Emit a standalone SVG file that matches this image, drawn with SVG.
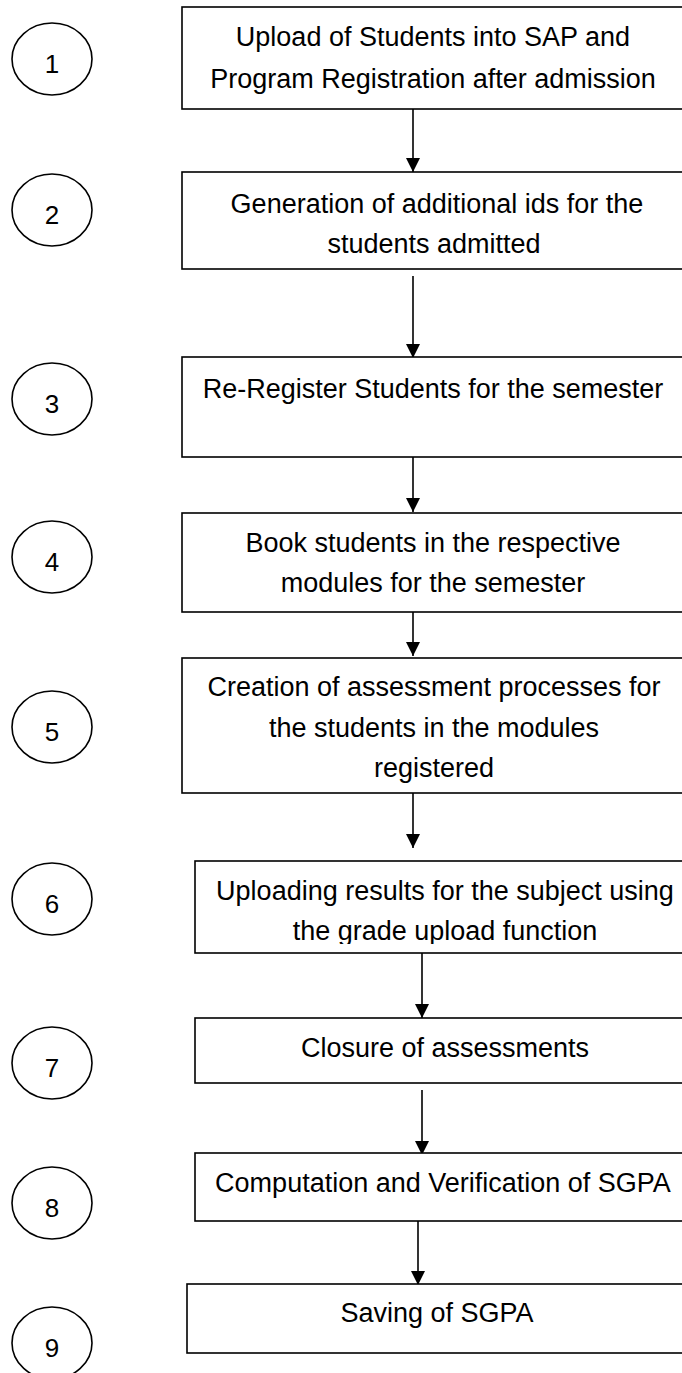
<svg xmlns="http://www.w3.org/2000/svg" width="682" height="1373" viewBox="0 0 682 1373">
<style>
.box{fill:#fff;stroke:#000;stroke-width:1.6}
.circ{fill:#fff;stroke:#000;stroke-width:1.6}
.t{font-family:"Liberation Sans",Arial,sans-serif;font-size:27px;fill:#000;text-anchor:middle}
.n{font-family:"Liberation Sans",Arial,sans-serif;font-size:26px;fill:#000;text-anchor:middle}
.conn{stroke:#000;stroke-width:1.6;fill:none;marker-end:url(#arr)}
</style>
<defs>
<marker id="arr" markerUnits="userSpaceOnUse" markerWidth="14" markerHeight="14" refX="14" refY="7" orient="auto" viewBox="0 0 14 14">
<path d="M0,0 L14,7 L0,14 z" fill="#000"/>
</marker>
<clipPath id="clip6"><rect x="195" y="861" width="500" height="83"/></clipPath>
</defs>
<rect width="682" height="1373" fill="#fff"/>
<g id="connectors">
<line class="conn" x1="413" y1="109" x2="413" y2="172"/>
<line class="conn" x1="413" y1="276" x2="413" y2="358"/>
<line class="conn" x1="413" y1="453" x2="413" y2="512"/>
<line class="conn" x1="413" y1="603" x2="413" y2="656"/>
<line class="conn" x1="413" y1="793" x2="413" y2="848"/>
<line class="conn" x1="422" y1="952" x2="422" y2="1018"/>
<line class="conn" x1="422" y1="1090" x2="422" y2="1155"/>
<line class="conn" x1="418" y1="1219" x2="418" y2="1285"/>
</g>
<g id="step1">
<ellipse class="circ" cx="52" cy="59" rx="40" ry="36"/>
<text class="n" x="52" y="73">1</text>
<rect class="box" x="182" y="7" width="520" height="102"/>
<text class="t" x="433" y="46">Upload of Students into SAP and</text>
<text class="t" x="433" y="88">Program Registration after admission</text>
</g>
<g id="step2">
<ellipse class="circ" cx="52" cy="210" rx="40" ry="36"/>
<text class="n" x="52" y="224">2</text>
<rect class="box" x="182" y="172" width="520" height="97"/>
<text class="t" x="437" y="213">Generation of additional ids for the</text>
<text class="t" x="434" y="253">students admitted</text>
</g>
<g id="step3">
<ellipse class="circ" cx="52" cy="399" rx="40" ry="36"/>
<text class="n" x="52" y="413">3</text>
<rect class="box" x="182" y="357" width="520" height="100"/>
<text class="t" x="433" y="398">Re-Register Students for the semester</text>
</g>
<g id="step4">
<ellipse class="circ" cx="52" cy="557" rx="40" ry="36"/>
<text class="n" x="52" y="571">4</text>
<rect class="box" x="182" y="513" width="520" height="99"/>
<text class="t" x="433" y="552">Book students in the respective</text>
<text class="t" x="433" y="592">modules for the semester</text>
</g>
<g id="step5">
<ellipse class="circ" cx="52" cy="727" rx="40" ry="36"/>
<text class="n" x="52" y="741">5</text>
<rect class="box" x="182" y="658" width="520" height="135"/>
<text class="t" x="434" y="696">Creation of assessment processes for</text>
<text class="t" x="434" y="737">the students in the modules</text>
<text class="t" x="434" y="777">registered</text>
</g>
<g id="step6">
<ellipse class="circ" cx="52" cy="899" rx="40" ry="36"/>
<text class="n" x="52" y="913">6</text>
<rect class="box" x="195" y="861" width="520" height="92"/>
<g clip-path="url(#clip6)">
<text class="t" x="445" y="900">Uploading results for the subject using</text>
<text class="t" x="445" y="940">the grade upload function</text>
</g>
</g>
<g id="step7">
<ellipse class="circ" cx="52" cy="1063" rx="40" ry="36"/>
<text class="n" x="52" y="1077">7</text>
<rect class="box" x="195" y="1018" width="520" height="65"/>
<text class="t" x="445" y="1057">Closure of assessments</text>
</g>
<g id="step8">
<ellipse class="circ" cx="52" cy="1203" rx="40" ry="36"/>
<text class="n" x="52" y="1217">8</text>
<rect class="box" x="195" y="1153" width="520" height="68"/>
<text class="t" x="443" y="1192">Computation and Verification of SGPA</text>
</g>
<g id="step9">
<ellipse class="circ" cx="52" cy="1343" rx="40" ry="36"/>
<text class="n" x="52" y="1357">9</text>
<rect class="box" x="187" y="1284" width="520" height="69"/>
<text class="t" x="437" y="1322">Saving of SGPA</text>
</g>
</svg>
